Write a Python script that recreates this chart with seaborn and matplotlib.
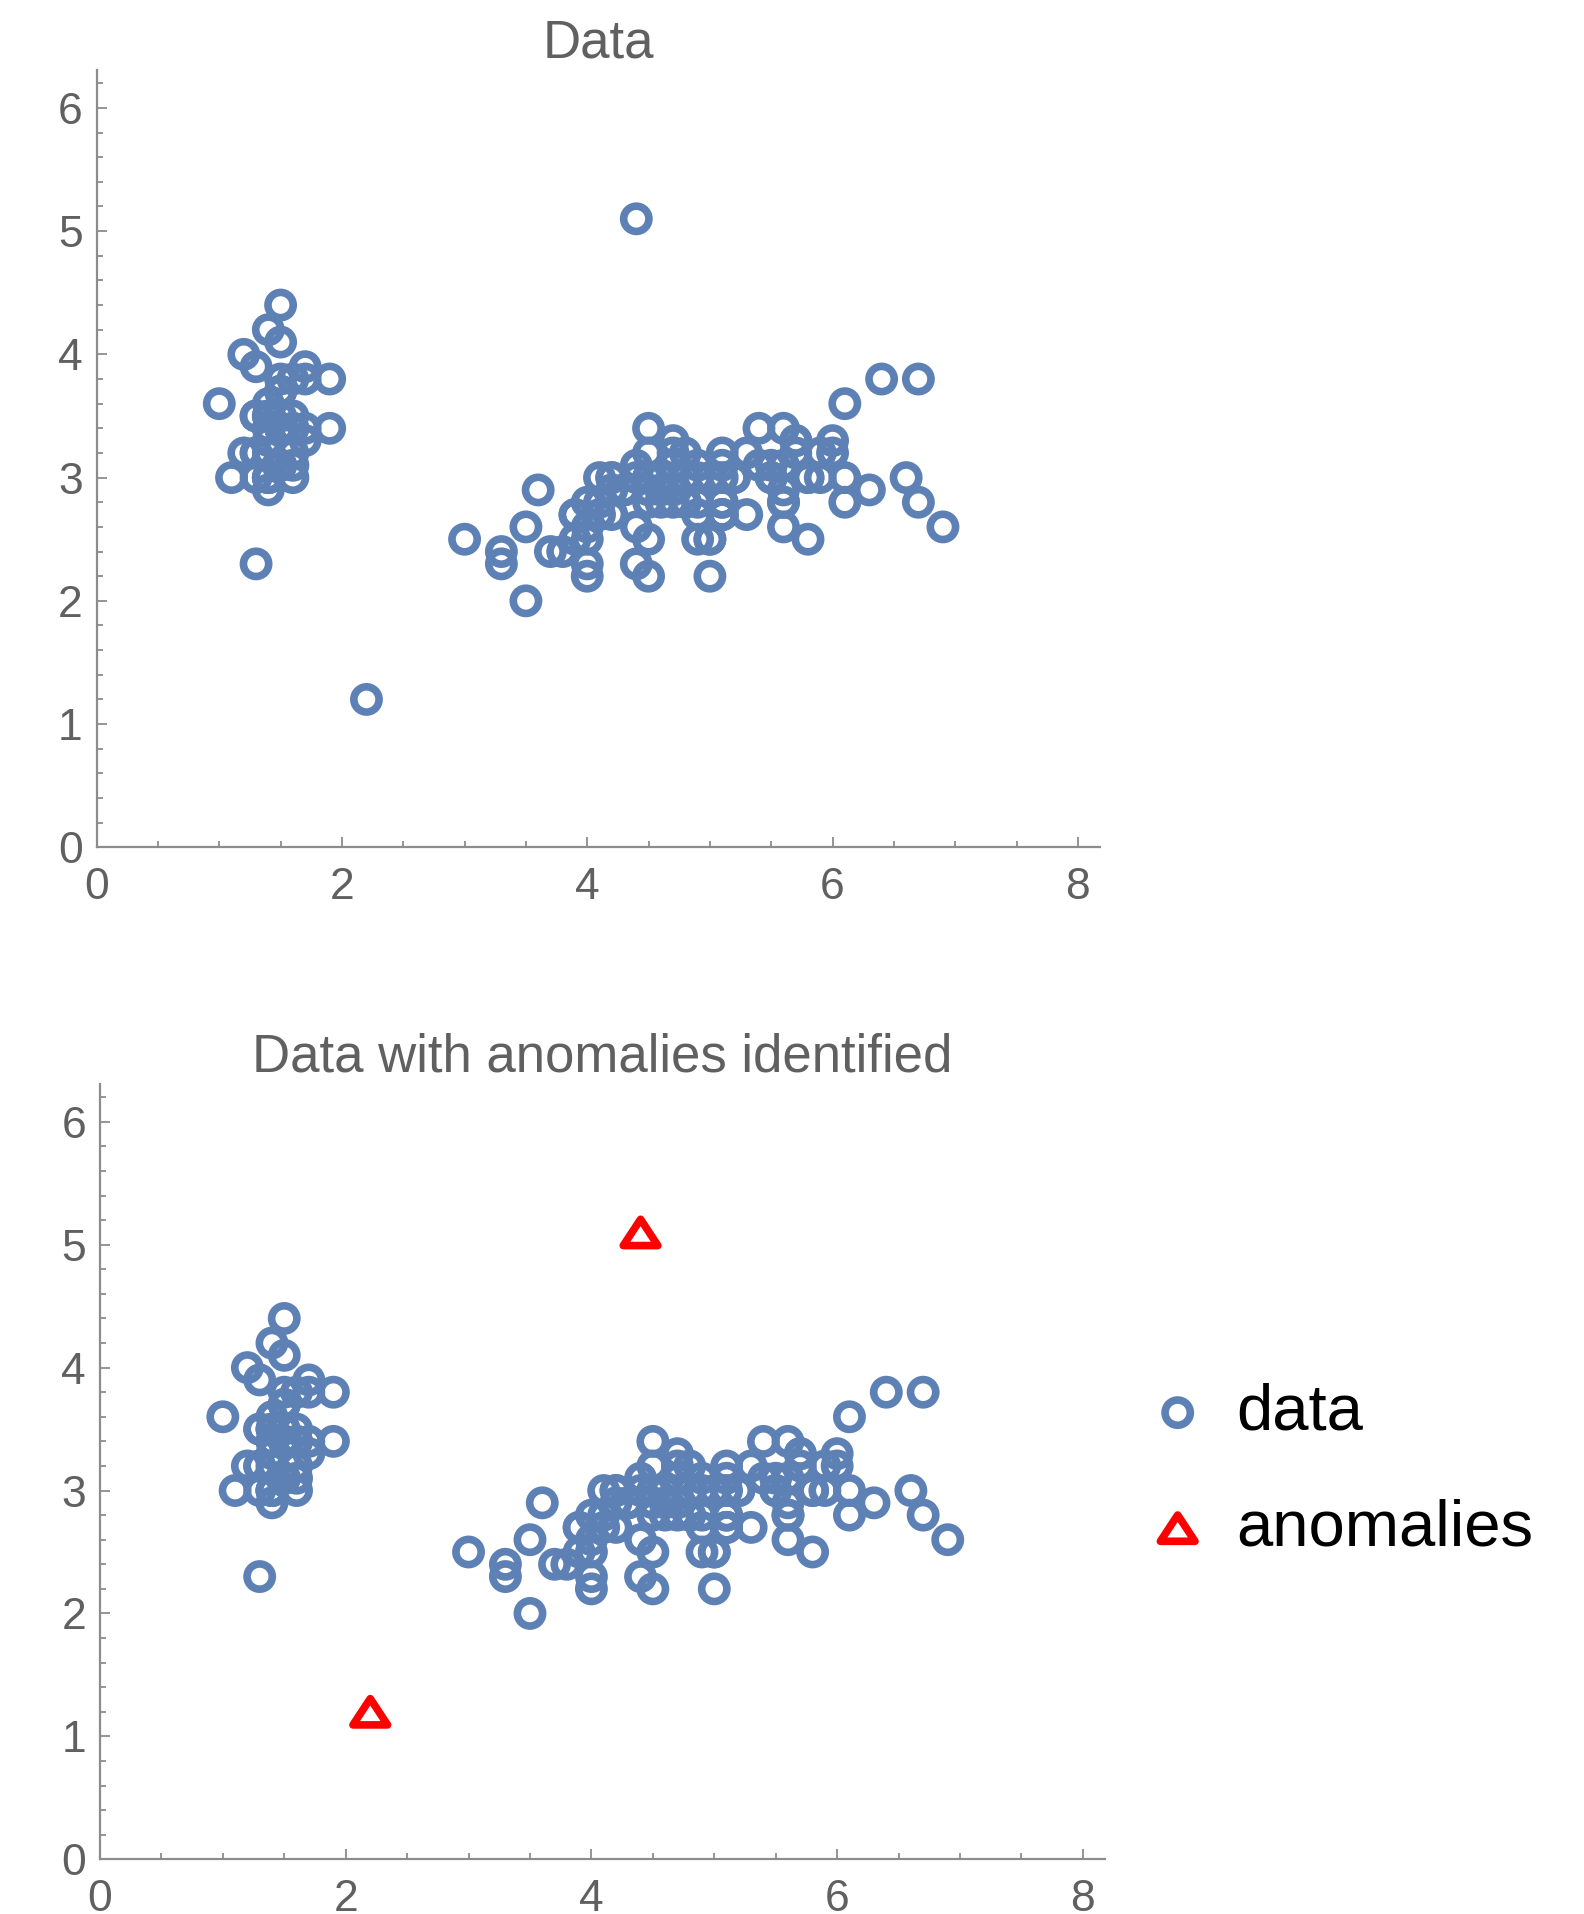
import pandas as pd
import seaborn as sns
import matplotlib.pyplot as plt
from matplotlib.path import Path
from matplotlib.markers import MarkerStyle
from matplotlib.ticker import MultipleLocator

# petal length (x) and sepal width (y)
setosa_x = [1.4, 1.4, 1.3, 1.5, 1.4, 1.7, 1.4, 1.5, 1.4, 1.5, 1.5, 1.6, 1.4, 1.1, 1.2, 1.5, 1.3, 1.4, 1.7, 1.5,
            1.7, 1.5, 1.0, 1.7, 1.9, 1.6, 1.6, 1.5, 1.4, 1.6, 1.6, 1.5, 1.5, 1.4, 1.5, 1.2, 1.3, 1.5, 1.3, 1.5,
            1.3, 1.3, 1.3, 1.6, 1.9, 1.4, 1.6, 1.4, 1.5, 1.4]
setosa_y = [3.5, 3.0, 3.2, 3.1, 3.6, 3.9, 3.4, 3.4, 2.9, 3.1, 3.7, 3.4, 3.0, 3.0, 4.0, 4.4, 3.9, 3.5, 3.8, 3.8,
            3.4, 3.7, 3.6, 3.3, 3.4, 3.0, 3.4, 3.5, 3.4, 3.2, 3.1, 3.4, 4.1, 4.2, 3.1, 3.2, 3.5, 3.1, 3.0, 3.4,
            3.5, 2.3, 3.2, 3.5, 3.8, 3.0, 3.8, 3.2, 3.7, 3.3]
versicolor_x = [4.7, 4.5, 4.9, 4.0, 4.6, 4.5, 4.7, 3.3, 4.6, 3.9, 3.5, 4.2, 4.0, 4.7, 3.6, 4.4, 4.5, 4.1, 4.5, 3.9,
                4.8, 4.0, 4.9, 4.7, 4.3, 4.4, 4.8, 5.0, 4.5, 3.5, 3.8, 3.7, 3.9, 5.1, 4.5, 4.5, 4.7, 4.4, 4.1, 4.0,
                4.4, 4.6, 4.0, 3.3, 4.2, 4.2, 4.2, 4.3, 3.0, 4.1]
versicolor_y = [3.2, 3.2, 3.1, 2.3, 2.8, 2.8, 3.3, 2.4, 2.9, 2.7, 2.0, 3.0, 2.2, 2.9, 2.9, 3.1, 3.0, 2.7, 2.2, 2.5,
                3.2, 2.8, 2.5, 2.8, 2.9, 3.0, 2.8, 3.0, 2.9, 2.6, 2.4, 2.4, 2.7, 2.7, 3.0, 3.4, 3.1, 2.3, 3.0, 2.5,
                2.6, 3.0, 2.6, 2.3, 2.7, 3.0, 2.9, 2.9, 2.5, 2.8]
virginica_x = [6.0, 5.1, 5.9, 5.6, 5.8, 6.6, 4.5, 6.3, 5.8, 6.1, 5.1, 5.3, 5.5, 5.0, 5.1, 5.3, 5.5, 6.7, 6.9, 5.0,
               5.7, 4.9, 6.7, 4.9, 5.7, 6.0, 4.8, 4.9, 5.6, 5.8, 6.1, 6.4, 5.6, 5.1, 5.6, 6.1, 5.6, 5.5, 4.8, 5.4,
               5.6, 5.1, 5.1, 5.9, 5.7, 5.2, 5.0, 5.2, 5.4, 5.1]
virginica_y = [3.3, 2.7, 3.0, 2.9, 3.0, 3.0, 2.5, 2.9, 2.5, 3.6, 3.2, 2.7, 3.0, 2.5, 2.8, 3.2, 3.0, 3.8, 2.6, 2.2,
               3.2, 2.8, 2.8, 2.7, 3.3, 3.2, 2.8, 3.0, 2.8, 3.0, 2.8, 3.8, 2.8, 2.8, 2.6, 3.0, 3.4, 3.1, 3.0, 3.1,
               3.1, 3.1, 2.7, 3.2, 3.3, 3.0, 2.5, 3.0, 3.4, 3.0]
anomaly_x = [4.4, 2.2]
anomaly_y = [5.1, 1.2]

titles = ["Data", "Data with anomalies identified"]
legend_labels = ["data", "anomalies"]

normal = pd.DataFrame({
    "x": setosa_x + versicolor_x + virginica_x,
    "y": setosa_y + versicolor_y + virginica_y,
})
anomalies = pd.DataFrame({"x": anomaly_x, "y": anomaly_y})
everything = pd.concat([normal, anomalies], ignore_index=True)

sns.set_style("ticks")
plt.rcParams["font.family"] = ["Liberation Sans", "DejaVu Sans"]

BLUE = "#5e81b5"
RED = "#ff0000"
AXIS = "#8c8c8c"
TEXT = "#606060"

tri = MarkerStyle(Path([(0, 0.76), (-1, -0.76), (1, -0.76), (0, 0.76)], closed=True), joinstyle="miter")

fig = plt.figure(figsize=(15.84, 19.14), dpi=100)
ax1 = fig.add_axes([0.0610, 0.5573, 0.6334, 0.4063])
ax2 = fig.add_axes([0.0631, 0.0286, 0.6345, 0.4052])

sns.scatterplot(data=everything, x="x", y="y", ax=ax1, marker="o", s=330,
                facecolor="none", edgecolor=BLUE, linewidth=5.5)

sns.scatterplot(data=normal, x="x", y="y", ax=ax2, marker="o", s=330,
                facecolor="none", edgecolor=BLUE, linewidth=5.5, label=legend_labels[0])
sns.scatterplot(data=anomalies, x="x", y="y", ax=ax2, marker=tri, s=620,
                facecolor="none", edgecolor=RED, linewidth=5.5, label=legend_labels[1])

for ax, title in zip([ax1, ax2], titles):
    ax.set_xlim(0, 8.18)
    ax.set_ylim(0, 6.31)
    ax.xaxis.set_major_locator(MultipleLocator(2))
    ax.xaxis.set_minor_locator(MultipleLocator(0.5))
    ax.yaxis.set_major_locator(MultipleLocator(1))
    ax.yaxis.set_minor_locator(MultipleLocator(0.2))
    ax.tick_params(which="both", direction="in", color=AXIS, width=1.3)
    ax.tick_params(which="major", length=7, labelsize=32, labelcolor=TEXT)
    ax.tick_params(axis="x", which="major", pad=14)
    ax.tick_params(axis="y", which="major", pad=10)
    ax.tick_params(which="minor", length=4)
    for side in ["top", "right"]:
        ax.spines[side].set_visible(False)
    for side in ["left", "bottom"]:
        ax.spines[side].set_color(AXIS)
        ax.spines[side].set_linewidth(1.6)
    ax.set_xlabel("")
    ax.set_ylabel("")
    ax.set_title(title, fontsize=38, color=TEXT, pad=9)

handles, labels = ax2.get_legend_handles_labels()
ax2.legend(handles, labels, loc="center left", bbox_to_anchor=(0.727, 0.2317),
           bbox_transform=fig.transFigure, frameon=False, fontsize=47,
           labelcolor="black", handlelength=0.8, handletextpad=0.5,
           labelspacing=0.85, borderpad=0, borderaxespad=0)

plt.savefig("out.png", dpi=100)
